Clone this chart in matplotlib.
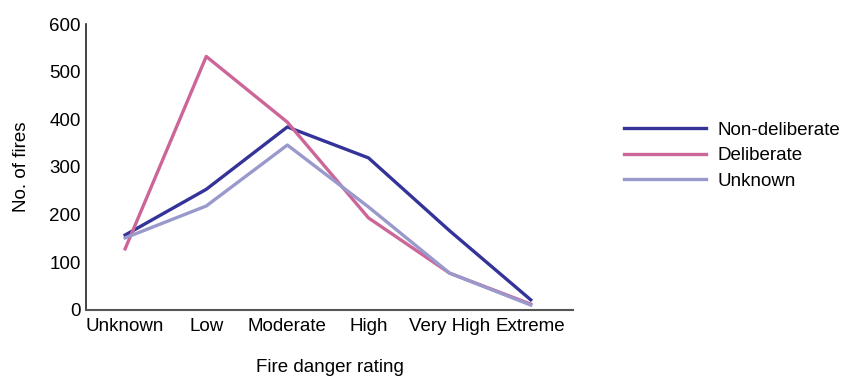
import matplotlib.pyplot as plt

plt.rcParams["font.family"] = ["Liberation Sans", "DejaVu Sans"]

categories = ["Unknown", "Low", "Moderate", "High", "Very High", "Extreme"]
non_deliberate = [157, 253, 384, 319, 166, 21]
deliberate = [128, 532, 394, 193, 77, 12]
unknown = [151, 218, 346, 216, 77, 10]

fig = plt.figure(figsize=(8.45, 3.76), dpi=100)
ax = fig.add_axes([0.102, 0.176, 0.576, 0.76])

x = range(len(categories))
ax.plot(x, non_deliberate, color="#333399", lw=2.4, label="Non-deliberate")
ax.plot(x, deliberate, color="#cc6699", lw=2.4, label="Deliberate")
ax.plot(x, unknown, color="#9999cc", lw=2.4, label="Unknown")

ax.set_xlim(-0.48, 5.52)
ax.set_ylim(0, 600)
ax.set_xticks(list(x))
ax.set_xticklabels(categories)
ax.set_yticks(range(0, 601, 100))
ax.tick_params(axis="x", labelsize=13.5, length=0, pad=6)
ax.tick_params(axis="y", labelsize=13.5, length=0, pad=4)
for s in ["top", "right"]:
    ax.spines[s].set_visible(False)
ax.spines["left"].set_color("#222222")
ax.spines["left"].set_linewidth(1.2)
ax.spines["bottom"].set_color("#555555")
ax.spines["bottom"].set_linewidth(1.5)

ax.set_ylabel("No. of fires", fontsize=13.5, labelpad=14)
ax.set_xlabel("Fire danger rating", fontsize=13.5, labelpad=17)

ax.legend(loc="center left", bbox_to_anchor=(1.07, 0.54), frameon=False,
          fontsize=13.5, handlelength=4.4, handletextpad=0.6, labelspacing=0.45)

fig.savefig("out.png", dpi=100)
